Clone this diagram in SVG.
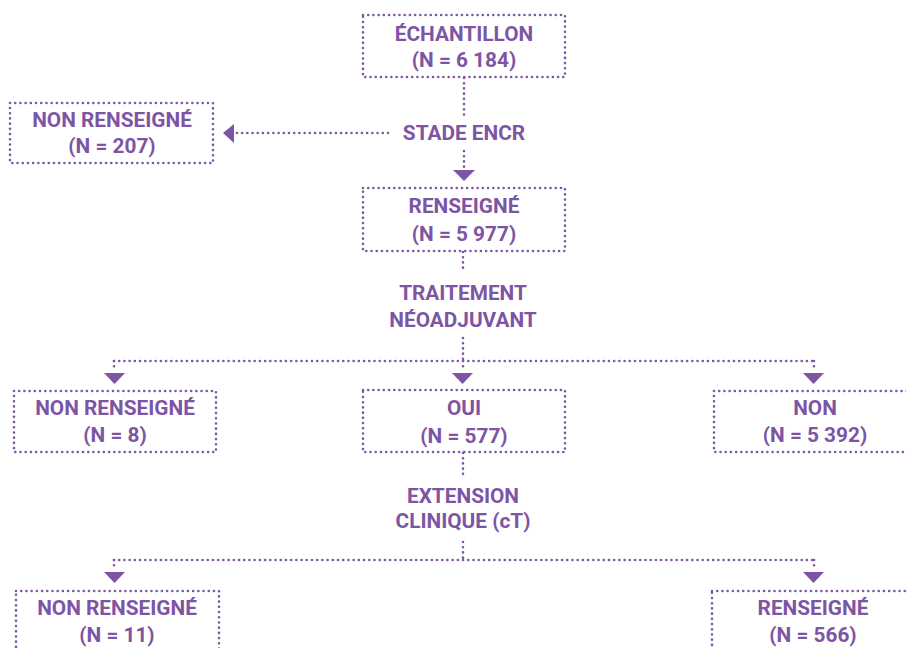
<svg xmlns="http://www.w3.org/2000/svg" width="906" height="648" viewBox="0 0 906 648">
<style>
.box{fill:none;stroke:#7d55a4;stroke-width:2.6;stroke-dasharray:0.01 5.2;stroke-linecap:round}
.ln{fill:none;stroke:#7d55a4;stroke-width:2.6;stroke-dasharray:0.01 5.2;stroke-linecap:round}
.ar{fill:#7d55a4}
text{font-family:Roboto,"Liberation Sans",sans-serif;font-weight:700;font-size:20.8px;fill:#7d55a4;text-anchor:middle}
</style>
<rect width="906" height="648" fill="#ffffff"/>
<g id="connectors">
<path class="ln" d="M464 78 V117"/>
<path class="ln" d="M388 133 H236"/>
<polygon class="ar" points="223,133 234,124 234,143"/>
<path class="ln" d="M464 151 V169"/>
<polygon class="ar" points="453,170 475,170 464,181"/>
<path class="ln" d="M463 252 V270"/>
<path class="ln" d="M463 338 V360"/>
<path class="ln" d="M114 361 H814"/>
<path class="ln" d="M114 361 V371"/>
<path class="ln" d="M463 361 V371"/>
<path class="ln" d="M814 361 V371"/>
<polygon class="ar" points="104,373 125,373 114.5,384"/>
<polygon class="ar" points="452,373 473,373 462.5,384"/>
<polygon class="ar" points="803,373 824,373 813.5,384"/>
<path class="ln" d="M463 453 V475"/>
<path class="ln" d="M463 542 V559"/>
<path class="ln" d="M114 560 H814"/>
<path class="ln" d="M114 560 V570"/>
<path class="ln" d="M814 560 V570"/>
<polygon class="ar" points="104,572 125,572 114.5,583"/>
<polygon class="ar" points="803,572 824,572 813.5,583"/>
</g>
<g id="n-echantillon">
<rect class="box" x="363" y="15" width="202" height="62"/>
<text x="464" y="41">ÉCHANTILLON</text>
<text x="464" y="67">(N = 6 184)</text>
</g>
<g id="n-stade">
<text x="464" y="140">STADE ENCR</text>
</g>
<g id="n-nr207">
<rect class="box" x="10" y="103" width="203" height="60"/>
<text x="112" y="127">NON RENSEIGNÉ</text>
<text x="112" y="153">(N = 207)</text>
</g>
<g id="n-r5977">
<rect class="box" x="363" y="188" width="202" height="63"/>
<text x="464" y="213">RENSEIGNÉ</text>
<text x="464" y="241">(N = 5 977)</text>
</g>
<g id="n-traitement">
<text x="463" y="300">TRAITEMENT</text>
<text x="463" y="327">NÉOADJUVANT</text>
</g>
<g id="n-nr8">
<rect class="box" x="14" y="391" width="202" height="61"/>
<text x="115" y="415">NON RENSEIGNÉ</text>
<text x="115" y="442">(N = 8)</text>
</g>
<g id="n-oui">
<rect class="box" x="363" y="390" width="202" height="62"/>
<text x="464" y="415">OUI</text>
<text x="464" y="443">(N = 577)</text>
</g>
<g id="n-non">
<rect class="box" x="714" y="391" width="202" height="61"/>
<text x="815" y="415">NON</text>
<text x="815" y="442">(N = 5 392)</text>
</g>
<g id="n-extension">
<text x="463" y="503">EXTENSION</text>
<text x="463" y="528">CLINIQUE (cT)</text>
</g>
<g id="n-nr11">
<rect class="box" x="16" y="591" width="203" height="62"/>
<text x="117" y="615">NON RENSEIGNÉ</text>
<text x="117" y="642">(N = 11)</text>
</g>
<g id="n-r566">
<rect class="box" x="712" y="591" width="202" height="62"/>
<text x="813" y="615">RENSEIGNÉ</text>
<text x="813" y="642">(N = 566)</text>
</g>
</svg>
